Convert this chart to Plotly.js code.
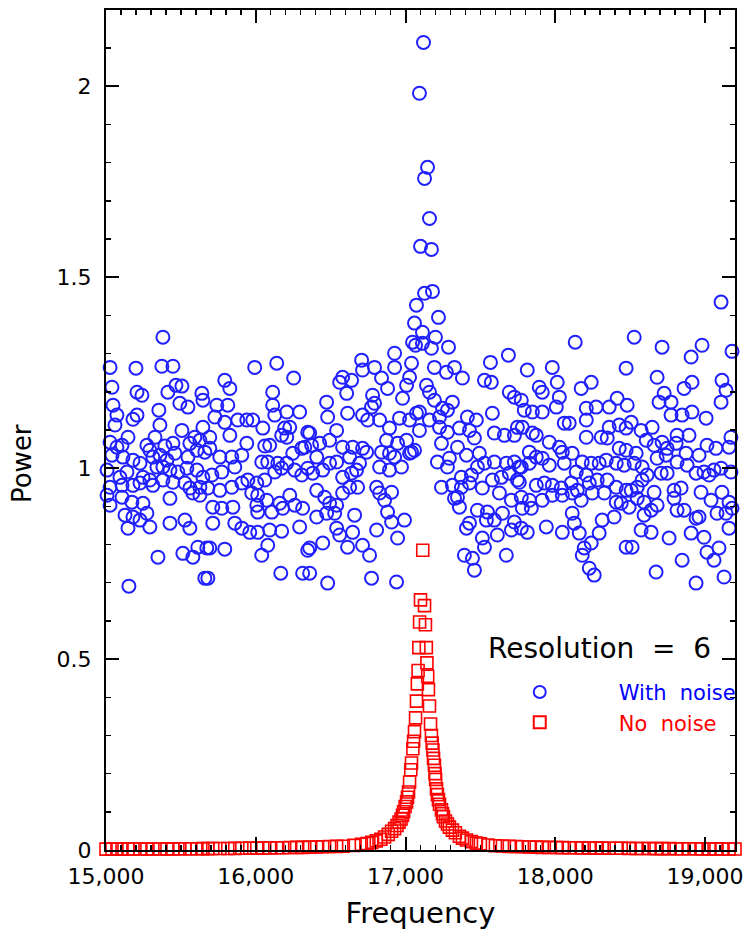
<!DOCTYPE html>
<html>
<head>
<meta charset="utf-8">
<script src="https://cdn.plot.ly/plotly-3.0.1.min.js"></script>
<style>html,body{margin:0;padding:0;background:#fff;}</style>
</head>
<body>
<div id="chart" style="width:756px;height:937px;"></div>
<script>
// Series: "With noise" — [frequency, power] pairs
const withNoise = [
[15380,1.343],[15027,1.264],[15200,1.262],[15373,1.267],[15447,1.267],[15040,1.212],[15467,1.217],[15507,1.215],[15640,1.196],[15207,1.199],[15240,1.191],[15413,1.199],[15047,1.165],[15493,1.170],[15547,1.160],[15647,1.178],[15353,1.152],[15073,1.139],[15207,1.139],[15180,1.128],[15360,1.113],[15060,1.113],[15507,1.099],[15647,1.107],[15147,1.081],[15327,1.081],[15027,1.068],[15073,1.055],[15107,1.060],[15273,1.060],[15293,1.047],[15393,1.058],[15447,1.065],[15560,1.065],[15593,1.081],[15627,1.073],[15040,1.034],[15113,1.029],[15180,1.021],[15227,1.013],[15313,1.029],[15360,1.034],[15407,1.021],[15460,1.039],[15547,1.029],[15607,1.047],[15660,1.042],[15007,0.995],[15140,0.990],[15093,0.976],[15340,1.003],[15380,1.003],[15427,0.995],[15480,0.990],[15540,1.000],[15607,0.995],[15647,0.976],[15247,0.976],[15293,0.969],[15027,0.950],[15107,0.955],[15180,0.955],[15227,0.961],[15313,0.955],[15380,0.969],[15447,0.963],[15527,0.961],[15560,0.948],[15627,0.950],[15007,0.929],[15027,0.903],[15107,0.924],[15173,0.911],[15247,0.908],[15427,0.921],[15580,0.935],[15627,0.929],[15127,0.877],[15180,0.872],[15273,0.882],[15293,0.846],[15147,0.843],[15227,0.864],[15427,0.856],[15527,0.864],[15560,0.843],[15347,0.767],[15513,0.777],[15580,0.767],[15613,0.793],[15673,0.791],[15660,0.712],[15153,0.691],
[15993,1.264],[16140,1.275],[16253,1.236],[15793,1.230],[15827,1.209],[16113,1.199],[15740,1.165],[15813,1.165],[16113,1.165],[16127,1.139],[16207,1.147],[16293,1.147],[15727,1.134],[15793,1.120],[15880,1.126],[15940,1.126],[15980,1.126],[16047,1.105],[16193,1.105],[16227,1.107],[16347,1.094],[15693,1.081],[15827,1.086],[15940,1.065],[16093,1.060],[16060,1.058],[16173,1.086],[16207,1.081],[15693,1.052],[15760,1.029],[15840,1.029],[15907,1.034],[16040,1.016],[16080,1.016],[16147,1.013],[16207,1.013],[16247,1.039],[16307,1.052],[16327,1.055],[16373,1.060],[15707,0.982],[15773,0.990],[15860,1.003],[15947,0.969],[16007,0.961],[16060,0.969],[16127,0.990],[16173,1.000],[16260,0.995],[16307,0.982],[16347,1.000],[15680,0.948],[15760,0.942],[15840,0.950],[15907,0.961],[15973,0.935],[16013,0.929],[16073,0.916],[16160,0.908],[16227,0.929],[16260,0.903],[16313,0.895],[15713,0.898],[15773,0.895],[15847,0.898],[16007,0.903],[16013,0.885],[16107,0.885],[16180,0.895],[15713,0.856],[15860,0.856],[15907,0.843],[15960,0.832],[16013,0.832],[16093,0.838],[16173,0.835],[16293,0.846],[15693,0.791],[15793,0.788],[16080,0.798],[16040,0.772],[16347,0.785],[15680,0.712],[16167,0.725],[16313,0.725],
[16927,1.301],[16927,1.264],[17040,1.275],[16707,1.283],[16713,1.257],[16793,1.264],[16580,1.238],[16640,1.230],[16560,1.225],[16607,1.196],[16840,1.236],[16880,1.209],[17027,1.238],[17007,1.217],[16980,1.183],[16780,1.191],[16793,1.170],[16773,1.160],[16473,1.173],[16480,1.134],[16613,1.144],[16713,1.139],[16747,1.126],[16827,1.126],[16893,1.105],[16960,1.131],[17027,1.126],[17073,1.144],[16360,1.092],[16427,1.065],[16493,1.073],[16540,1.099],[16580,1.055],[16647,1.055],[16713,1.052],[16740,1.042],[16873,1.073],[16947,1.065],[17007,1.073],[17040,1.042],[16407,1.029],[16493,1.013],[16540,1.016],[16627,1.029],[16693,1.013],[16673,0.995],[16840,1.042],[16893,1.039],[16927,1.029],[16973,1.003],[17027,1.039],[16380,0.987],[16447,0.995],[16580,0.976],[16640,0.987],[16827,1.003],[16893,0.995],[16407,0.942],[16460,0.924],[16493,0.908],[16540,0.903],[16580,0.935],[16627,0.950],[16680,0.950],[16807,0.950],[16827,0.935],[16907,0.937],[16860,0.916],[16407,0.872],[16473,0.882],[16527,0.882],[16660,0.877],[16880,0.885],[16907,0.859],[16993,0.864],[16540,0.843],[16560,0.825],[16647,0.832],[16613,0.793],[16713,0.798],[16760,0.772],[16807,0.838],[16360,0.791],[16447,0.804],[16947,0.817],[16480,0.699],[16773,0.712],[16940,0.702],[16360,0.725],
[17120,2.115],[17093,1.982],[17147,1.788],[17127,1.759],[17160,1.654],[17100,1.581],[17173,1.573],[17180,1.463],[17127,1.458],[17073,1.427],[17220,1.395],[17060,1.380],[17113,1.356],[17047,1.330],[17200,1.343],[17067,1.322],[17113,1.327],[17173,1.314],[17287,1.317],[17687,1.296],[17567,1.277],[17813,1.257],
[17193,1.264],[17273,1.251],[17327,1.264],[17380,1.236],[17527,1.230],[17573,1.225],[17140,1.217],[17160,1.199],[17193,1.178],[17247,1.157],[17313,1.173],[17693,1.199],[17727,1.186],[17773,1.178],[17093,1.147],[17160,1.126],[17093,1.099],[17227,1.134],[17280,1.152],[17413,1.134],[17473,1.126],[17580,1.144],[17747,1.107],[17227,1.107],[17280,1.094],[17360,1.105],[17427,1.099],[17460,1.079],[17593,1.092],[17660,1.086],[17727,1.086],[17060,1.047],[17240,1.065],[17347,1.055],[17407,1.034],[17493,1.039],[17527,1.013],[17593,1.016],[17673,1.013],[17727,1.016],[17773,1.003],[17213,1.016],[17293,1.026],[17280,1.003],[17373,0.976],[17440,0.982],[17480,1.003],[17580,0.969],[17640,0.976],[17693,0.987],[17747,0.969],[17240,0.950],[17313,0.955],[17373,0.950],[17347,0.924],[17427,0.961],[17513,0.948],[17627,0.935],[17707,0.916],[17773,0.924],[17327,0.921],[17360,0.898],[17480,0.890],[17547,0.885],[17593,0.864],[17647,0.882],[17727,0.859],[17427,0.856],[17407,0.843],[17540,0.864],[17613,0.825],[17707,0.838],[17773,0.843],[17513,0.817],[17527,0.793],[17393,0.772],[17447,0.764],[17460,0.733],[17673,0.772],
[18133,1.330],[17980,1.264],[17893,1.212],[17913,1.199],[18013,1.225],[18027,1.186],[18007,1.160],[18173,1.209],[18240,1.225],[18473,1.262],[17793,1.152],[17847,1.147],[17913,1.147],[18207,1.157],[18273,1.160],[18360,1.160],[18413,1.183],[18060,1.118],[18093,1.118],[18207,1.126],[18207,1.081],[17780,1.107],[17847,1.092],[17873,1.086],[18360,1.107],[18427,1.113],[18473,1.105],[17960,1.068],[18027,1.055],[18047,1.042],[18113,1.039],[18307,1.081],[18347,1.079],[18427,1.052],[18473,1.047],[17827,1.042],[17873,1.029],[17913,1.026],[17960,1.008],[18180,1.016],[18240,1.013],[18293,1.013],[18340,1.021],[18407,1.013],[18460,1.008],[17760,1.003],[17827,1.013],[18060,1.013],[18140,0.990],[18207,0.982],[17760,0.963],[17873,0.955],[17927,0.961],[17980,0.955],[18040,0.948],[18107,0.961],[18147,0.942],[18227,0.961],[18280,0.969],[18347,0.969],[18407,0.950],[18473,0.942],[17827,0.916],[17913,0.916],[17980,0.929],[18047,0.929],[18113,0.935],[18173,0.916],[18247,0.935],[18327,0.935],[18407,0.911],[18440,0.908],[17780,0.895],[17840,0.895],[18113,0.882],[18127,0.856],[18160,0.830],[18313,0.864],[18393,0.872],[17813,0.832],[17940,0.846],[18047,0.832],[18240,0.804],[18193,0.791],[18180,0.772],[18293,0.830],[18227,0.738],[18260,0.720],[18473,0.793],
[19107,1.435],[18527,1.343],[18713,1.317],[18980,1.322],[18907,1.291],[19180,1.306],[18680,1.238],[18860,1.209],[18913,1.225],[19113,1.230],[19140,1.204],[19107,1.173],[18727,1.196],[18693,1.173],[18773,1.173],[18773,1.139],[18480,1.165],[18507,1.120],[18847,1.139],[18913,1.147],[19007,1.131],[18573,1.099],[18647,1.107],[18607,1.073],[18660,1.060],[18713,1.068],[18747,1.052],[18813,1.086],[18893,1.086],[18807,1.065],[19013,1.060],[19073,1.052],[19173,1.081],[19160,1.055],[18540,1.039],[18680,1.026],[18740,1.034],[18873,1.039],[18960,1.034],[18813,1.016],[18880,1.008],[18940,0.987],[18993,0.990],[19027,0.982],[19060,0.995],[19107,1.000],[19173,0.990],[18527,1.013],[18580,1.003],[18613,0.982],[18707,0.987],[18747,0.987],[18507,0.942],[18547,0.950],[18580,0.969],[18660,0.937],[18793,0.942],[18840,0.948],[18973,0.937],[19040,0.916],[19113,0.937],[19160,0.911],[19180,0.895],[18493,0.898],[18547,0.921],[18593,0.911],[18640,0.890],[18680,0.903],[18793,0.921],[18813,0.890],[18860,0.890],[18940,0.869],[18960,0.872],[19080,0.882],[19140,0.882],[19160,0.843],[18573,0.838],[18640,0.832],[18760,0.817],[18907,0.830],[18993,0.819],[18513,0.793],[18593,0.877],[18847,0.759],[19013,0.780],[19060,0.759],[19093,0.791],[18673,0.728],[18940,0.699],[19127,0.715]
];

// Series: "No noise" — [frequency, power] pairs
const noNoise = [
[15000,0.0023],[15040,0.0023],[15073,0.0024],[15107,0.0024],[15147,0.0025],[15180,0.0025],[15227,0.0026],[15273,0.0027],[15313,0.0027],[15360,0.0028],[15407,0.0030],[15447,0.0030],[15493,0.0031],[15527,0.0032],[15560,0.0033],[15607,0.0034],[15647,0.0036],[15680,0.0037],[15713,0.0038],[15760,0.0040],[15813,0.0041],[15860,0.0043],[15907,0.0045],[15960,0.0048],[16007,0.0050],[16047,0.0052],[16093,0.0054],[16140,0.0057],[16180,0.0060],[16227,0.0064],[16273,0.0068],[16313,0.0070],[16360,0.0075],[16407,0.0080],[16447,0.0085],[16493,0.0090],[16540,0.0095],[16585,0.010],[16655,0.012],[16705,0.015],[16743,0.017],[16775,0.020],[16805,0.024],[16835,0.028],[16860,0.034],[16885,0.041],[16907,0.049],[16927,0.056],[16943,0.064],[16957,0.073],[16970,0.081],[16980,0.091],[16987,0.100],[16997,0.114],[17007,0.126],[17013,0.138],[17020,0.152],[17027,0.178],[17035,0.210],[17040,0.228],[17049,0.265],[17054,0.285],[17060,0.310],[17067,0.346],[17073,0.390],[17079,0.435],[17084,0.470],[17089,0.530],[17094,0.597],[17100,0.655],
[17115,0.785],
[17127,0.640],[17133,0.590],[17139,0.530],[17143,0.490],[17148,0.455],[17153,0.420],[17160,0.377],[17167,0.330],[17173,0.300],[17178,0.280],[17183,0.262],[17187,0.240],[17193,0.222],[17197,0.200],[17201,0.185],[17207,0.160],[17213,0.145],[17220,0.132],[17227,0.120],[17240,0.105],[17247,0.095],[17253,0.087],[17267,0.076],[17280,0.068],[17293,0.060],[17313,0.052],[17333,0.045],[17360,0.036],[17380,0.031],[17407,0.026],[17440,0.022],[17473,0.018],[17500,0.016],[17550,0.013],[17600,0.011],[17647,0.0105],[17693,0.0095],[17740,0.0090],[17780,0.0085],[17827,0.0080],[17873,0.0075],[17913,0.0070],[17960,0.0068],[18007,0.0065],[18047,0.0062],[18093,0.0060],[18140,0.0057],[18180,0.0055],[18227,0.0053],[18273,0.0050],[18313,0.0048],[18360,0.0047],[18407,0.0045],[18440,0.0044],[18493,0.0042],[18540,0.0040],[18580,0.0039],[18627,0.0038],[18673,0.0037],[18713,0.0036],[18760,0.0035],[18807,0.0034],[18847,0.0033],[18893,0.0032],[18940,0.0031],[18980,0.0030],[19027,0.0030],[19073,0.0029],[19113,0.0028],[19160,0.0028],[19200,0.0027]
];

const freqWithNoise = withNoise.map(p => p[0]);
const powerWithNoise = withNoise.map(p => p[1]);
const freqNoNoise = noNoise.map(p => p[0]);
const powerNoNoise = noNoise.map(p => p[1]);

const seriesNames = ['With\u00a0\u00a0noise', 'No\u00a0\u00a0noise'];
const seriesColors = ['#2020ff', '#ff0000'];
const noteText = 'Resolution\u00a0\u00a0=\u00a0\u00a06';
const xLabel = 'Frequency';
const yLabel = 'Power';

const FONT = 'DejaVu Sans, Liberation Sans, sans-serif';

const traces = [
  {
    type: 'scatter', mode: 'markers',
    x: freqWithNoise, y: powerWithNoise,
    name: '<span style="color:#0000ff">' + seriesNames[0] + '</span>',
    cliponaxis: false,
    marker: {symbol: 'circle-open', size: 13, color: seriesColors[0], line: {width: 2, color: seriesColors[0]}}
  },
  {
    type: 'scatter', mode: 'markers',
    x: freqNoNoise, y: powerNoNoise,
    name: '<span style="color:#ff0000">' + seriesNames[1] + '</span>',
    cliponaxis: false,
    marker: {symbol: 'square-open', size: 12, color: seriesColors[1], line: {width: 1.6, color: seriesColors[1]}}
  }
];

const axisCommon = {
  showline: true, linewidth: 2, linecolor: 'black', mirror: 'allticks',
  ticks: 'inside', ticklen: 13, tickwidth: 2, tickcolor: 'black',
  showgrid: false, zeroline: false,
  tickfont: {family: FONT, size: 22, color: 'black'}
};

const layout = {
  width: 756, height: 937,
  margin: {l: 106, r: 21, t: 10, b: 87},
  paper_bgcolor: 'white', plot_bgcolor: 'white',
  showlegend: true,
  legend: {
    x: 0.564, y: 0.212, xanchor: 'left', yanchor: 'top',
    bgcolor: 'rgba(0,0,0,0)', borderwidth: 0,
    itemsizing: 'constant', itemwidth: 148,
    font: {family: FONT, size: 21, color: 'black'},
    traceorder: 'normal'
  },
  xaxis: Object.assign({}, axisCommon, {
    range: [15000, 19200], autorange: false,
    tick0: 15000, dtick: 1000, tickformat: ',',
    ticklabelstandoff: 6,
    minor: {tick0: 15000, dtick: 100, ticks: 'inside', ticklen: 5, tickwidth: 1.5, tickcolor: 'black', showgrid: false},
    title: {text: xLabel, font: {family: FONT, size: 29, color: 'black'}, standoff: 14}
  }),
  yaxis: Object.assign({}, axisCommon, {
    range: [0, 2.2], autorange: false,
    tick0: 0, dtick: 0.5,
    ticklabelstandoff: 8,
    minor: {tick0: 0, dtick: 0.1, ticks: 'inside', ticklen: 5, tickwidth: 1.5, tickcolor: 'black', showgrid: false}
  }),
  annotations: [
    {
      xref: 'paper', yref: 'paper', x: 0.785, y: 0.240,
      xanchor: 'center', yanchor: 'middle', showarrow: false,
      text: noteText, font: {family: FONT, size: 28, color: 'black'}
    },
    {
      xref: 'paper', yref: 'paper', x: -0.1335, y: 0.4595,
      xanchor: 'center', yanchor: 'middle', showarrow: false, textangle: -90,
      text: yLabel, font: {family: FONT, size: 26, color: 'black'}
    }
  ]
};

Plotly.newPlot('chart', traces, layout, {displayModeBar: false, staticPlot: true});
</script>
</body>
</html>
